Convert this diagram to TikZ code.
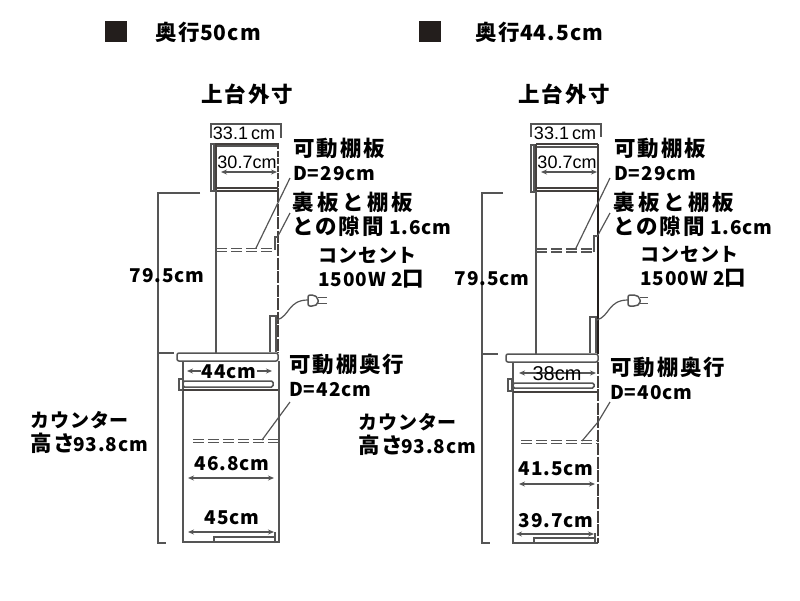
\documentclass[tikz,border=0pt]{standalone}
\usepackage{fontspec}
\usetikzlibrary{arrows.meta}
\newfontfamily\jpfont[LetterSpace=5]{Noto Sans CJK JP}
\newfontfamily\jpwide[LetterSpace=9]{Noto Sans CJK JP}
\newfontfamily\jpwider[LetterSpace=16]{Noto Sans CJK JP}
\newfontfamily\numfont[LetterSpace=4]{Noto Sans CJK JP}
\newfontfamily\thinfont{Liberation Sans}
\newcommand{\JA}[1]{{\jpwide\bfseries\fontsize{21.5}{24}\selectfont #1}}
\newcommand{\JB}[1]{{\jpwider\bfseries\fontsize{21.5}{24}\selectfont #1}}
\newcommand{\LT}[1]{{\fontsize{21}{24}\selectfont #1}}
\definecolor{ink}{RGB}{35,30,28}
\definecolor{gr}{RGB}{85,85,85}
\tikzset{
 lbl/.style={anchor=west,inner sep=0pt,align=left,text=black,font=\jpfont\bfseries\fontsize{19}{24}\selectfont},
 dimb/.style={anchor=center,inner sep=0pt,text=black,font=\numfont\bfseries\fontsize{19}{22}\selectfont},
 dimt/.style={anchor=center,inner sep=0pt,text=black,font=\thinfont\fontsize{18}{18}\selectfont},
 ln/.style={draw=gr,line width=1.5pt},
 hv/.style={draw=ink!85!white,line width=2pt},
 lead/.style={draw=gr,line width=1.2pt},
 dimarrow/.style={draw=gr,line width=1.3pt,{Stealth[length=6pt,width=5pt]}-{Stealth[length=6pt,width=5pt]}},
 dbl/.style={draw=gr,line width=1.2pt,dash pattern=on 11pt off 4pt},
 sq/.style={fill=ink,draw=none,minimum width=22pt,minimum height=21pt,inner sep=0pt},
}
\begin{document}
\begin{tikzpicture}[x=1pt,y=-1pt]
\useasboundingbox (0,0) rectangle (800,600);
% headers
\node[sq] (s1) at (116,31.5) {};
\node[sq] (s2) at (430,31.5) {};
\node[lbl] (h1) at (155,32) {\JA{奥行}\LT{50cm}};
\node[lbl] (h2) at (475,32) {\JA{奥行}\LT{44.5cm}};
\node[lbl] (t1) at (201,94) {\JA{上台外寸}};
\node[lbl] (t2) at (518,94) {\JA{上台外寸}};
% LEFT drawing
\draw[ln] (211,138)--(211,124)--(281,124)--(281,138);
\draw[hv] (216,143.5)--(278,143.5);
\draw[ln] (216,146)--(278,146);
\draw[hv] (216,143)--(216,190);
\draw[hv,dash pattern=on 6pt off 1.5pt] (278,143)--(278,190);
\draw[ln] (211,144) rectangle (214,191);
\draw[hv] (216,188)--(278,188);
\draw[hv] (216,191)--(278,191);
\draw[dimarrow] (221,172)--(277,172);
\draw[ln] (216,190)--(216,353);
\draw[hv,dash pattern=on 12pt off 1.5pt] (278,190)--(278,353);
\draw[ln] (275,250)--(275,237)--(278,237);
\draw[dbl] (216,248.5)--(275,248.5);
\draw[dbl] (216,251.5)--(275,251.5);
\draw[lead] (290,178)--(256,248);
\draw[lead] (290,213)--(278,236);
\draw[ln] (200,193)--(158,193)--(158,543)--(166,543);
\draw[ln] (158,353)--(174,353);
\draw[ln,rounded corners=2pt] (177,353) rectangle (278,361);
\draw[ln] (183,361)--(183,542)--(279,542)--(279,361);
\draw[ln] (270,352)--(270,316)--(276,316)--(276,352);
\draw[lead] (277,320) .. controls (290,316) and (288,300) .. (308,300);
\draw[ln,rounded corners=2pt] (308,295)--(314,295)--(318,298)--(318,304)--(314,306)--(308,306)--cycle;
\draw[ln] (318,297.5)--(327,297.5) (318,303.5)--(327,303.5);
\draw[ln,rounded corners=1.5pt] (183,381) rectangle (273,387);
\draw[ln] (179,379) rectangle (183,390);
\draw[hv] (183,390)--(278,390);
\draw[dimarrow] (187,371)--(272,371);
\draw[dbl] (193,439.5)--(279,439.5);
\draw[dbl] (193,442.5)--(279,442.5);
\draw[lead] (290,402)--(262,440);
\draw[dimarrow] (188,478)--(274,478);
\draw[dimarrow] (188,532)--(274,532);
\draw[ln] (214,542)--(214,537)--(275,537);
\draw[ln] (275,542)--(275,532);
% RIGHT drawing
\draw[ln] (531,137)--(531,124)--(601,124)--(601,137);
\draw[hv] (536,144)--(598,144);
\draw[ln] (536,147)--(598,147);
\draw[hv] (536,144)--(536,191);
\draw[hv] (598,144)--(598,191);
\draw[ln] (531,145) rectangle (534,192);
\draw[hv] (536,188)--(598,188);
\draw[hv] (536,191)--(598,191);
\draw[dimarrow] (541,172)--(597,172);
\draw[ln] (536,191)--(536,354);
\draw[hv,draw=ink] (598,191)--(598,354);
\draw[ln] (594,252)--(594,236)--(598,236);
\draw[dbl] (536,249)--(594,249);
\draw[dbl] (536,252)--(594,252);
\draw[lead] (610,178)--(576,248);
\draw[lead] (610,213)--(598,235);
\draw[ln] (503,193)--(482,193)--(482,543)--(490,543);
\draw[ln] (482,354)--(498,354);
\draw[ln,rounded corners=2pt] (506,354) rectangle (598,362);
\draw[ln] (513,362)--(513,543)--(598,543);
\draw[hv,dash pattern=on 12pt off 1.5pt] (598,362)--(598,543);
\draw[ln] (590,353)--(590,317)--(596,317)--(596,353);
\draw[lead] (597,320) .. controls (610,316) and (608,300) .. (628,300);
\draw[ln,rounded corners=2pt] (628,295)--(636,295)--(640,298)--(640,304)--(636,306)--(628,306)--cycle;
\draw[ln] (640,297.5)--(648,297.5) (640,303.5)--(648,303.5);
\draw[ln,rounded corners=1.5pt] (513,383) rectangle (594,388);
\draw[ln] (508,379) rectangle (512,391);
\draw[hv] (513,392)--(598,392);
\draw[dimarrow] (519,373)--(596,373);
\draw[dbl] (521,440.5)--(598,440.5);
\draw[dbl] (521,443.5)--(598,443.5);
\draw[lead] (598,422)--(582,441);
\draw[lead] (610,402)--(598,422);
\draw[dimarrow] (519,484)--(595,484);
\draw[dimarrow] (516,534)--(594,534);
\draw[ln] (534,543)--(534,538)--(595,538);
\draw[ln] (595,543)--(595,533);
% LEFT text
\node[dimt] (d1) at (244,133) {33.1\,cm};
\node[dimt] (d2) at (247,162) {30.7cm};
\node[lbl] (a1) at (293,159) {\JA{可動棚板}\\D=29cm};
\node[lbl] (a2) at (292,214) {\JB{裏板と棚板}\\\JA{との隙間} 1.6cm};
\node[lbl] (a3) at (318,268) {コンセント\\1500W 2\JA{口}};
\node[dimb] (a4) at (167,276) {79.5cm};
\node[lbl] (a5) at (289,375) {\JA{可動棚奥行}\\D=42cm};
\node[dimb,fill=white,inner sep=1pt] (a6) at (229,372) {44cm};
\node[lbl] (a7) at (30,432) {カウンター\\\JA{高さ}\kern-2pt 93.8cm};
\node[dimb] (a8) at (232,464) {46.8cm};
\node[dimb] (a9) at (232,518) {45cm};
% RIGHT text
\node[dimt] (b1) at (565,133) {33.1\,cm};
\node[dimt] (b2) at (567,162) {30.7cm};
\node[lbl] (c1) at (614,159) {\JA{可動棚板}\\D=29cm};
\node[lbl] (c2) at (613,214) {\JB{裏板と棚板}\\\JA{との隙間} 1.6cm};
\node[lbl] (c3) at (640,267) {コンセント\\1500W 2\JA{口}};
\node[dimb] (c4) at (492,279) {79.5cm};
\node[lbl] (c5) at (610,378) {\JA{可動棚奥行}\\D=40cm};
\node[dimt,font=\thinfont\fontsize{20}{20}\selectfont] (c6) at (557,374) {38cm};
\node[lbl] (c7) at (358,434) {カウンター\\\JA{高さ}\kern-2pt 93.8cm};
\node[dimb] (c8) at (556,469) {41.5cm};
\node[dimb] (c9) at (556,521) {39.7cm};
\end{tikzpicture}
\end{document}
